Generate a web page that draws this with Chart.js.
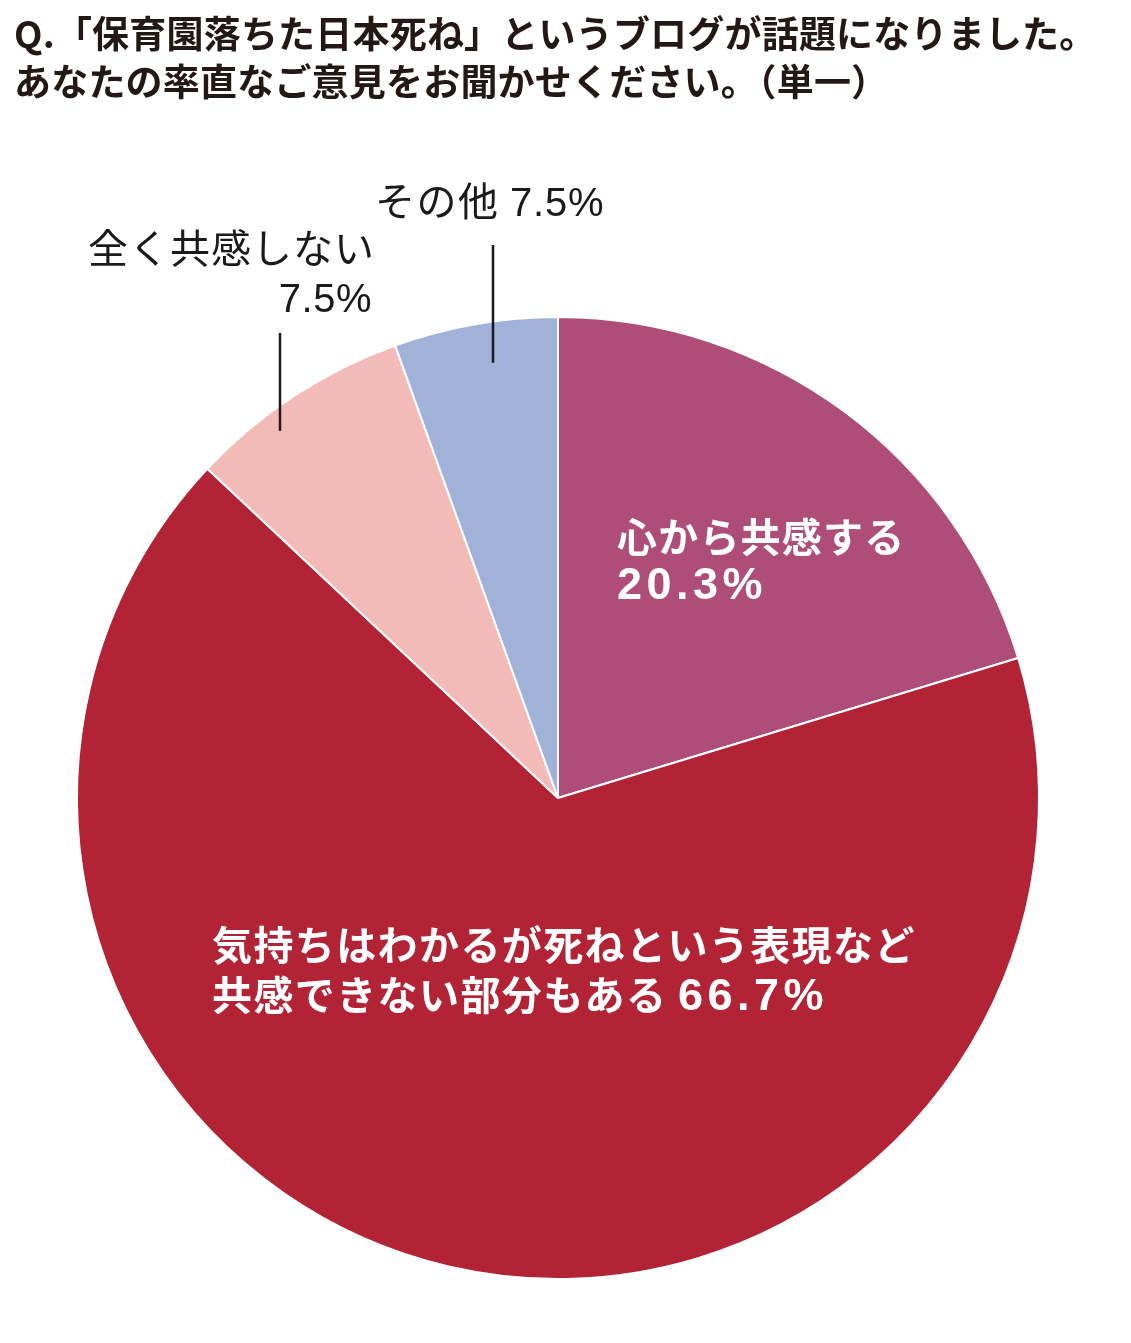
<!DOCTYPE html>
<html lang="ja">
<head>
<meta charset="utf-8">
<title>保育園落ちた日本死ね</title>
<script src="https://cdn.jsdelivr.net/npm/chart.js@4.4.1/dist/chart.umd.min.js"></script>
<style>
    html, body { margin: 0; padding: 0; background: #ffffff; }
    #wrap { position: relative; width: 1131px; height: 1343px; }
</style>
</head>
<body>
<div id="wrap"><canvas id="pieChart"></canvas></div>
<script>
// 回答カテゴリ（12時の位置から時計回り）
const categories = ["心から共感する", "気持ちはわかるが死ねという表現など共感できない部分もある", "全く共感しない", "その他"];
// 図で描かれている扇形の大きさ（%）
const sliceValues = [20.3, 66.7, 7.5, 5.5];
// 図に書かれているラベルの数字
const labelTexts = ["20.3%", "66.7%", "7.5%", "7.5%"];
const sliceColors = ["#ae4e78", "#b22435", "#f3bbb8", "#a1b2d9"];

const titleLines = [
    "Q.「保育園落ちた日本死ね」というブログが話題になりました。",
    "あなたの率直なご意見をお聞かせください。（単一）"
];

const JP = '"Noto Sans CJK JP"';
const LATIN = '"Liberation Sans", "Noto Sans CJK JP"';

// 複数フォントの文字列を1行に並べて描く
function drawParts(ctx, parts, x, y, align) {
    let total = 0;
    parts.forEach(p => {
        ctx.font = p.font;
        ctx.letterSpacing = (p.spacing || 0) + "px";
        p.w = ctx.measureText(p.text).width;
        total += p.w;
    });
    let cx = align === "right" ? x - total : x;
    parts.forEach(p => {
        ctx.font = p.font;
        ctx.letterSpacing = (p.spacing || 0) + "px";
        ctx.fillText(p.text, cx, y);
        cx += p.w;
    });
    ctx.letterSpacing = "0px";
}

const labelPlugin = {
    id: "labelPlugin",
    afterDraw(chart) {
        const ctx = chart.ctx;
        const arcs = chart.getDatasetMeta(0).data;
        ctx.save();
        ctx.textAlign = "left";
        ctx.textBaseline = "alphabetic";

        // タイトル
        ctx.fillStyle = "#231815";
        drawParts(ctx, [{ text: titleLines[0], font: "bold 37px " + JP, spacing: 0.2 }], 14, 48);
        drawParts(ctx, [{ text: titleLines[1], font: "bold 37px " + JP, spacing: 0.2 }], 14, 96);

        // 扇形の中の白い文字
        ctx.fillStyle = "#ffffff";
        drawParts(ctx, [{ text: categories[0], font: "bold 40px " + JP, spacing: 1.2 }], 617, 552);
        drawParts(ctx, [{ text: labelTexts[0], font: "bold 45px " + LATIN, spacing: 4.5 }], 617, 599);
        drawParts(ctx, [{ text: "気持ちはわかるが死ねという表現など", font: "bold 40px " + JP, spacing: 1.4 }], 212, 960);
        drawParts(ctx, [
            { text: "共感できない部分もある ", font: "bold 40px " + JP, spacing: 1.4 },
            { text: labelTexts[1], font: "bold 45px " + LATIN, spacing: 4.5 }
        ], 212, 1010);

        // 外側の黒い文字
        ctx.fillStyle = "#1a1a1a";
        drawParts(ctx, [
            { text: categories[3] + " ", font: "40px " + JP, spacing: 1.5 },
            { text: labelTexts[3], font: "40px " + LATIN, spacing: 0.8 }
        ], 375, 216);
        drawParts(ctx, [{ text: categories[2], font: "40px " + JP, spacing: 1 }], 88, 263);
        drawParts(ctx, [{ text: labelTexts[2], font: "40px " + LATIN, spacing: 0.5 }], 372, 312, "right");

        // 引き出し線（扇形の中の点から真上へ）
        const leaders = [
            { index: 3, frac: 0.57, rRatio: 0.915, topY: 245 },
            { index: 2, frac: 0.36, rRatio: 0.957, topY: 333 }
        ];
        ctx.strokeStyle = "#1a1a1a";
        ctx.lineWidth = 2.5;
        leaders.forEach(l => {
            const a = arcs[l.index];
            const ang = a.startAngle + (a.endAngle - a.startAngle) * l.frac;
            const r = a.outerRadius * l.rRatio;
            const px = a.x + Math.cos(ang) * r;
            const py = a.y + Math.sin(ang) * r;
            ctx.beginPath();
            ctx.moveTo(Math.round(px), l.topY);
            ctx.lineTo(Math.round(px), py);
            ctx.stroke();
        });
        ctx.restore();
    }
};

new Chart(document.getElementById("pieChart"), {
    type: "pie",
    data: {
        labels: categories,
        datasets: [{
            data: sliceValues,
            backgroundColor: sliceColors,
            borderColor: "#ffffff",
            borderWidth: 2
        }]
    },
    options: {
        responsive: true,
        maintainAspectRatio: false,
        animation: false,
        layout: { padding: { left: 76, right: 91, top: 316, bottom: 63 } },
        plugins: {
            legend: { display: false },
            tooltip: { enabled: false }
        }
    },
    plugins: [labelPlugin]
});
</script>
</body>
</html>
